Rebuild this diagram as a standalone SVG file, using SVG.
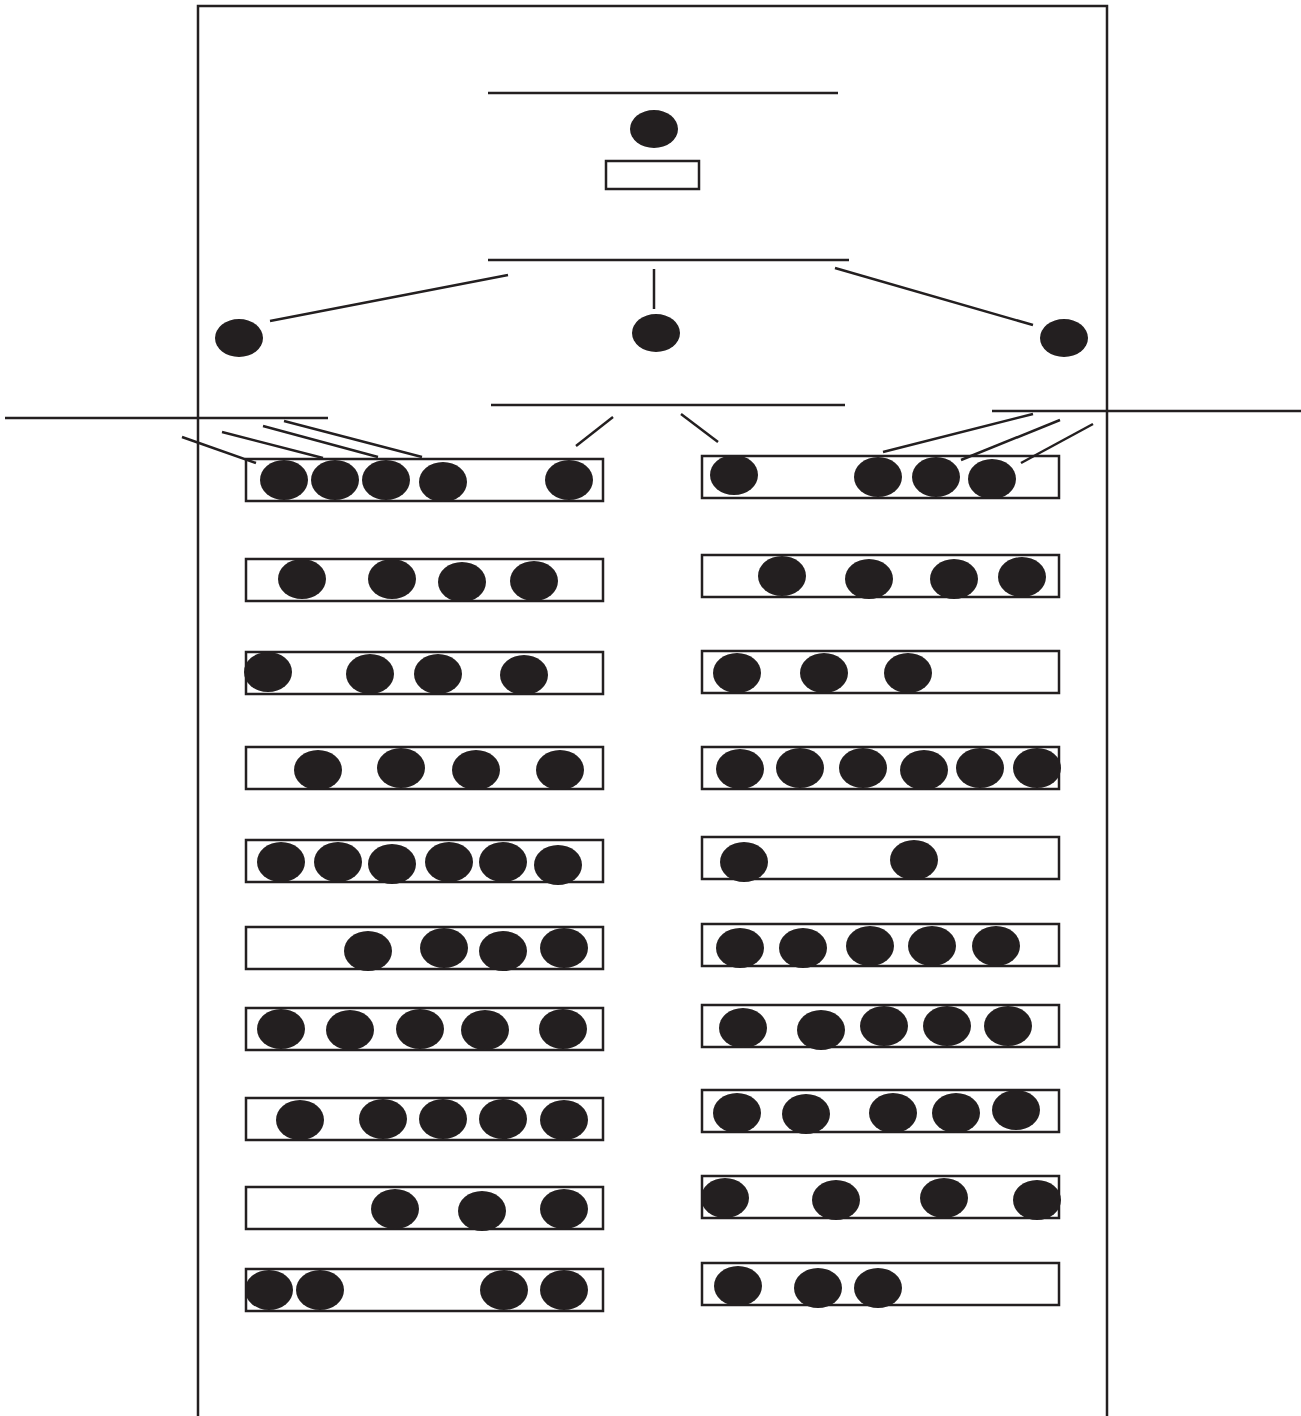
<svg xmlns="http://www.w3.org/2000/svg" width="1301" height="1416" viewBox="0 0 1301 1416">
<style>
.ln{stroke:#231f20;stroke-width:2.5;fill:none}
.bx{stroke:#231f20;stroke-width:2.5;fill:none}
.d{fill:#231f20}
</style>
<rect width="1301" height="1416" fill="#fff"/>
<path class="ln" d="M198,1416 V6 H1107 V1416"/>
<g id="top">
<ellipse class="d" cx="654" cy="129" rx="24" ry="19"/>
<rect class="bx" x="606" y="161" width="93" height="28"/>
</g>
<g id="mid-nodes">
<ellipse class="d" cx="239" cy="338" rx="24" ry="19"/>
<ellipse class="d" cx="656" cy="333" rx="24" ry="19"/>
<ellipse class="d" cx="1064" cy="338" rx="24" ry="19"/>
</g>
<g id="connectors">
<line class="ln" x1="488" y1="93" x2="838" y2="93"/>
<line class="ln" x1="488" y1="260" x2="849" y2="260"/>
<line class="ln" x1="270" y1="321" x2="508" y2="275"/>
<line class="ln" x1="654" y1="269" x2="654" y2="309"/>
<line class="ln" x1="835" y1="268" x2="1033" y2="325"/>
<line class="ln" x1="491" y1="405" x2="845" y2="405"/>
<line class="ln" x1="5" y1="418" x2="328" y2="418"/>
<line class="ln" x1="992" y1="411" x2="1301" y2="411"/>
<line class="ln" x1="182" y1="437" x2="256" y2="463"/>
<line class="ln" x1="222" y1="432" x2="323" y2="458"/>
<line class="ln" x1="263" y1="426" x2="378" y2="457"/>
<line class="ln" x1="284" y1="421" x2="422" y2="457"/>
<line class="ln" x1="576" y1="446" x2="613" y2="417"/>
<line class="ln" x1="681" y1="414" x2="718" y2="442"/>
<line class="ln" x1="883" y1="452" x2="1033" y2="414"/>
<line class="ln" x1="961" y1="460" x2="1060" y2="420"/>
<line class="ln" x1="1021" y1="463" x2="1093" y2="424"/>
</g>
<g id="left-rows">
<g id="L1"><rect class="bx" x="246" y="459" width="357" height="42"/>
<ellipse class="d" cx="284" cy="480" rx="24" ry="20"/><ellipse class="d" cx="335" cy="480" rx="24" ry="20"/><ellipse class="d" cx="386" cy="480" rx="24" ry="20"/><ellipse class="d" cx="443" cy="482" rx="24" ry="20"/><ellipse class="d" cx="569" cy="480" rx="24" ry="20"/></g>
<g id="L2"><rect class="bx" x="246" y="559" width="357" height="42"/>
<ellipse class="d" cx="302" cy="579" rx="24" ry="20"/><ellipse class="d" cx="392" cy="579" rx="24" ry="20"/><ellipse class="d" cx="462" cy="582" rx="24" ry="20"/><ellipse class="d" cx="534" cy="581" rx="24" ry="20"/></g>
<g id="L3"><rect class="bx" x="246" y="652" width="357" height="42"/>
<ellipse class="d" cx="268" cy="672" rx="24" ry="20"/><ellipse class="d" cx="370" cy="674" rx="24" ry="20"/><ellipse class="d" cx="438" cy="674" rx="24" ry="20"/><ellipse class="d" cx="524" cy="675" rx="24" ry="20"/></g>
<g id="L4"><rect class="bx" x="246" y="747" width="357" height="42"/>
<ellipse class="d" cx="318" cy="770" rx="24" ry="20"/><ellipse class="d" cx="401" cy="768" rx="24" ry="20"/><ellipse class="d" cx="476" cy="770" rx="24" ry="20"/><ellipse class="d" cx="560" cy="770" rx="24" ry="20"/></g>
<g id="L5"><rect class="bx" x="246" y="840" width="357" height="42"/>
<ellipse class="d" cx="281" cy="862" rx="24" ry="20"/><ellipse class="d" cx="338" cy="862" rx="24" ry="20"/><ellipse class="d" cx="392" cy="864" rx="24" ry="20"/><ellipse class="d" cx="449" cy="862" rx="24" ry="20"/><ellipse class="d" cx="503" cy="862" rx="24" ry="20"/><ellipse class="d" cx="558" cy="865" rx="24" ry="20"/></g>
<g id="L6"><rect class="bx" x="246" y="927" width="357" height="42"/>
<ellipse class="d" cx="368" cy="951" rx="24" ry="20"/><ellipse class="d" cx="444" cy="948" rx="24" ry="20"/><ellipse class="d" cx="503" cy="951" rx="24" ry="20"/><ellipse class="d" cx="564" cy="948" rx="24" ry="20"/></g>
<g id="L7"><rect class="bx" x="246" y="1008" width="357" height="42"/>
<ellipse class="d" cx="281" cy="1029" rx="24" ry="20"/><ellipse class="d" cx="350" cy="1030" rx="24" ry="20"/><ellipse class="d" cx="420" cy="1029" rx="24" ry="20"/><ellipse class="d" cx="485" cy="1030" rx="24" ry="20"/><ellipse class="d" cx="563" cy="1029" rx="24" ry="20"/></g>
<g id="L8"><rect class="bx" x="246" y="1098" width="357" height="42"/>
<ellipse class="d" cx="300" cy="1120" rx="24" ry="20"/><ellipse class="d" cx="383" cy="1119" rx="24" ry="20"/><ellipse class="d" cx="443" cy="1119" rx="24" ry="20"/><ellipse class="d" cx="503" cy="1119" rx="24" ry="20"/><ellipse class="d" cx="564" cy="1120" rx="24" ry="20"/></g>
<g id="L9"><rect class="bx" x="246" y="1187" width="357" height="42"/>
<ellipse class="d" cx="395" cy="1209" rx="24" ry="20"/><ellipse class="d" cx="482" cy="1211" rx="24" ry="20"/><ellipse class="d" cx="564" cy="1209" rx="24" ry="20"/></g>
<g id="L10"><rect class="bx" x="246" y="1269" width="357" height="42"/>
<ellipse class="d" cx="269" cy="1290" rx="24" ry="20"/><ellipse class="d" cx="320" cy="1290" rx="24" ry="20"/><ellipse class="d" cx="504" cy="1290" rx="24" ry="20"/><ellipse class="d" cx="564" cy="1290" rx="24" ry="20"/></g>
</g>
<g id="right-rows">
<g id="R1"><rect class="bx" x="702" y="456" width="357" height="42"/>
<ellipse class="d" cx="734" cy="475" rx="24" ry="20"/><ellipse class="d" cx="878" cy="477" rx="24" ry="20"/><ellipse class="d" cx="936" cy="477" rx="24" ry="20"/><ellipse class="d" cx="992" cy="479" rx="24" ry="20"/></g>
<g id="R2"><rect class="bx" x="702" y="555" width="357" height="42"/>
<ellipse class="d" cx="782" cy="576" rx="24" ry="20"/><ellipse class="d" cx="869" cy="579" rx="24" ry="20"/><ellipse class="d" cx="954" cy="579" rx="24" ry="20"/><ellipse class="d" cx="1022" cy="577" rx="24" ry="20"/></g>
<g id="R3"><rect class="bx" x="702" y="651" width="357" height="42"/>
<ellipse class="d" cx="737" cy="673" rx="24" ry="20"/><ellipse class="d" cx="824" cy="673" rx="24" ry="20"/><ellipse class="d" cx="908" cy="673" rx="24" ry="20"/></g>
<g id="R4"><rect class="bx" x="702" y="747" width="357" height="42"/>
<ellipse class="d" cx="740" cy="769" rx="24" ry="20"/><ellipse class="d" cx="800" cy="768" rx="24" ry="20"/><ellipse class="d" cx="863" cy="768" rx="24" ry="20"/><ellipse class="d" cx="924" cy="770" rx="24" ry="20"/><ellipse class="d" cx="980" cy="768" rx="24" ry="20"/><ellipse class="d" cx="1037" cy="768" rx="24" ry="20"/></g>
<g id="R5"><rect class="bx" x="702" y="837" width="357" height="42"/>
<ellipse class="d" cx="744" cy="862" rx="24" ry="20"/><ellipse class="d" cx="914" cy="860" rx="24" ry="20"/></g>
<g id="R6"><rect class="bx" x="702" y="924" width="357" height="42"/>
<ellipse class="d" cx="740" cy="948" rx="24" ry="20"/><ellipse class="d" cx="803" cy="948" rx="24" ry="20"/><ellipse class="d" cx="870" cy="946" rx="24" ry="20"/><ellipse class="d" cx="932" cy="946" rx="24" ry="20"/><ellipse class="d" cx="996" cy="946" rx="24" ry="20"/></g>
<g id="R7"><rect class="bx" x="702" y="1005" width="357" height="42"/>
<ellipse class="d" cx="743" cy="1028" rx="24" ry="20"/><ellipse class="d" cx="821" cy="1030" rx="24" ry="20"/><ellipse class="d" cx="884" cy="1026" rx="24" ry="20"/><ellipse class="d" cx="947" cy="1026" rx="24" ry="20"/><ellipse class="d" cx="1008" cy="1026" rx="24" ry="20"/></g>
<g id="R8"><rect class="bx" x="702" y="1090" width="357" height="42"/>
<ellipse class="d" cx="737" cy="1113" rx="24" ry="20"/><ellipse class="d" cx="806" cy="1114" rx="24" ry="20"/><ellipse class="d" cx="893" cy="1113" rx="24" ry="20"/><ellipse class="d" cx="956" cy="1113" rx="24" ry="20"/><ellipse class="d" cx="1016" cy="1110" rx="24" ry="20"/></g>
<g id="R9"><rect class="bx" x="702" y="1176" width="357" height="42"/>
<ellipse class="d" cx="725" cy="1198" rx="24" ry="20"/><ellipse class="d" cx="836" cy="1200" rx="24" ry="20"/><ellipse class="d" cx="944" cy="1198" rx="24" ry="20"/><ellipse class="d" cx="1037" cy="1200" rx="24" ry="20"/></g>
<g id="R10"><rect class="bx" x="702" y="1263" width="357" height="42"/>
<ellipse class="d" cx="738" cy="1286" rx="24" ry="20"/><ellipse class="d" cx="818" cy="1288" rx="24" ry="20"/><ellipse class="d" cx="878" cy="1288" rx="24" ry="20"/></g>
</g>
</svg>
